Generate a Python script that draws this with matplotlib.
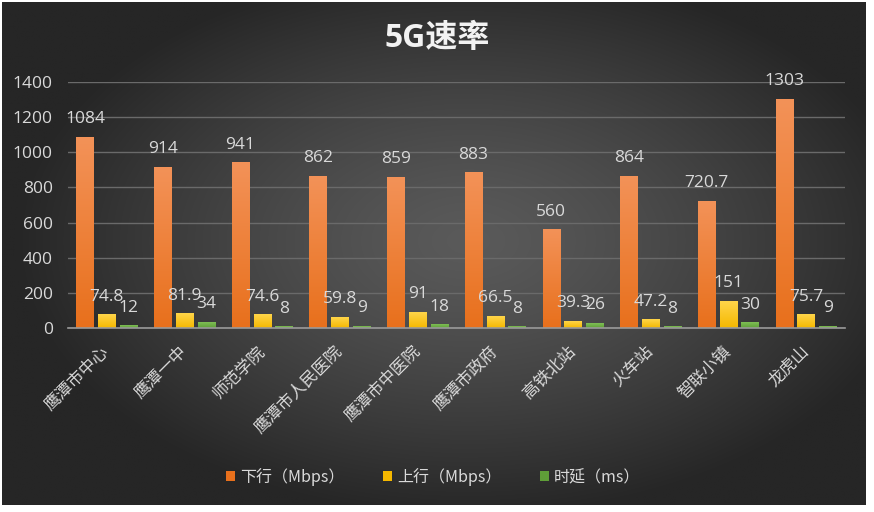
import matplotlib
matplotlib.use("Agg")
import matplotlib.pyplot as plt
import numpy as np
from matplotlib.patches import Patch
from matplotlib.colors import to_rgb

plt.rcParams['font.family'] = ['Open Sans', 'Noto Sans CJK SC', 'DejaVu Sans']

categories = ["鹰潭市中心", "鹰潭一中", "师范学院", "鹰潭市人民医院", "鹰潭市中医院",
              "鹰潭市政府", "高铁北站", "火车站", "智联小镇", "龙虎山"]
down = [1084, 914, 941, 862, 859, 883, 560, 864, 720.7, 1303]
up = [74.8, 81.9, 74.6, 59.8, 91, 66.5, 39.3, 47.2, 151, 75.7]
latency = [12, 34, 8, 9, 18, 8, 26, 8, 30, 9]
series_names = ["下行（Mbps）", "上行（Mbps）", "时延（ms）"]
yticks = [0, 200, 400, 600, 800, 1000, 1200, 1400]
title = "5G速率"

W, H = 874, 512
fig = plt.figure(figsize=(W / 100, H / 100), dpi=100)
fig.patch.set_facecolor('white')

# background radial gradient
bg = fig.add_axes([2 / W, 7 / H, 864 / W, 503 / H])
bg.set_axis_off()
yy, xx = np.mgrid[-1:1:300j, -1:1:500j]
r = np.sqrt(((xx - 0.08) / 1.05) ** 2 + ((yy + 0.05) / 1.1) ** 2)
r = np.clip(r, 0, 1)
c_center = np.array(to_rgb('#5a5a5a'))
c_edge = np.array(to_rgb('#262626'))
img = c_center[None, None, :] * (1 - r[..., None] ** 1.3) + c_edge[None, None, :] * (r[..., None] ** 1.3)
bg.imshow(img, aspect='auto', extent=[0, 1, 0, 1], interpolation='bilinear')
bg.set_xlim(0, 1)
bg.set_ylim(0, 1)

ax = fig.add_axes([68 / W, (H - 328) / H, (845 - 68) / W, (328 - 82) / H])
ax.set_facecolor('none')

x = np.arange(len(categories))
bw = 0.225
step = 0.28
colors = [('#f39258', '#e8701c'), ('#ffd54a', '#f5b800'), ('#7fbf55', '#5f9e38')]
series = [down, up, latency]
text_color = '#d9d9d9'

for i, (vals, (ctop, cbot)) in enumerate(zip(series, colors)):
    bars = ax.bar(x + (i - 1) * step, vals, width=bw, color=cbot, zorder=3,
                  label=series_names[i])
    grad = np.linspace(0, 1, 100)[:, None]
    ct, cb = np.array(to_rgb(ctop)), np.array(to_rgb(cbot))
    gimg = ct[None, None, :] * (1 - grad[..., None]) + cb[None, None, :] * grad[..., None]
    for b in bars:
        x0, w, h = b.get_x(), b.get_width(), b.get_height()
        ax.imshow(gimg, extent=[x0, x0 + w, 0, h], aspect='auto', zorder=3.5,
                  interpolation='bilinear')
    for b, v in zip(bars, vals):
        ax.annotate(f"{v:g}", (b.get_x() + b.get_width() / 2, b.get_height()),
                    xytext=(0, 13), textcoords='offset points', ha='center', va='center',
                    fontsize=12.5, color=text_color, zorder=5)

ax.set_xlim(-0.5, len(categories) - 0.5)
ax.set_ylim(0, 1400)
ax.set_yticks(yticks)
ax.yaxis.grid(True, color='#6a6a6a', linewidth=1, zorder=0)
ax.set_axisbelow(True)
for s in ['top', 'right', 'left']:
    ax.spines[s].set_visible(False)
ax.spines['bottom'].set_color('#9a9a9a')
ax.spines['bottom'].set_linewidth(1.2)
ax.spines['bottom'].set_zorder(4)
ax.tick_params(axis='both', length=0, colors=text_color, labelsize=12.5)
ax.tick_params(axis='y', pad=11)
ax.set_xticks(x)
ax.set_xticklabels(categories, rotation=45, ha='right', va='center',
                   rotation_mode='anchor', fontsize=12, color=text_color,
                   family=['Noto Sans CJK SC'])
ax.tick_params(axis='x', pad=15)

fig.text(437 / W, 1 - 38 / H, title, ha='center', va='center', fontsize=23,
         fontweight='bold', color='#f2f2f2', family=['Open Sans', 'Noto Sans CJK SC'])

handles = [Patch(facecolor=c[1], edgecolor='none') for c in colors]
leg = fig.legend(handles, series_names, loc='center', bbox_to_anchor=(433 / W, 1 - 477 / H),
                 ncol=3, frameon=False, handlelength=0.6, handleheight=0.6,
                 handletextpad=0.3, columnspacing=2.4,
                 prop={'family': ['Noto Sans CJK SC', 'Open Sans'], 'size': 11.5})
for t in leg.get_texts():
    t.set_color(text_color)

fig.savefig('out.png', dpi=100, facecolor='white')
